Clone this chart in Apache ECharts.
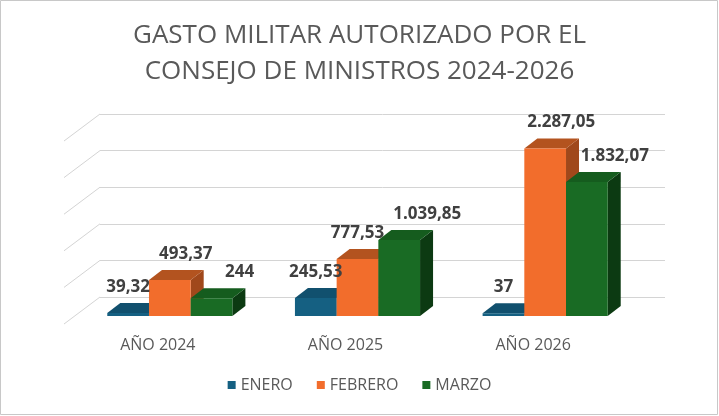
<!DOCTYPE html>
<html>
<head>
<meta charset="utf-8">
<script src="https://cdn.jsdelivr.net/npm/echarts@6/dist/echarts.min.js"></script>
<style>
  html, body { margin: 0; padding: 0; background: #fff; }
  #chart { width: 719px; height: 416px; }
</style>
</head>
<body>
<div id="chart"></div>
<script>
// datos
const categories = ['AÑO 2024', 'AÑO 2025', 'AÑO 2026'];
const seriesNames = ['ENERO', 'FEBRERO', 'MARZO'];
const enero = [39.32, 245.53, 37];
const febrero = [493.37, 777.53, 2287.05];
const marzo = [244, 1039.85, 1832.07];
const yTicks = [0, 500, 1000, 1500, 2000, 2500];

const values = [enero, febrero, marzo];
const faces = [
  {front: '#156082', top: '#11506e', side: '#0d3d55'},
  {front: '#f26d2c', top: '#b3531f', side: '#a0481b'},
  {front: '#196b24', top: '#155c1e', side: '#0c3a12'}
];
const labelShift = [16, 16, 28];
const depth = [13, -10];
const wallDepth = [-36, 27];

// 1.039,85 style
const fmt = v => {
  let parts = v.toFixed(2).split('.');
  let ent = parts[0].replace(/\B(?=(\d{3})+(?!\d))/g, '.');
  return parts[1] === '00' ? ent : ent + ',' + parts[1];
};

const font = '"Open Sans", "Noto Sans", sans-serif';

// geometria comun de la barra i
function barBox(i, api) {
  let top = api.coord([api.value(0), api.value(1)]);
  let base = api.coord([api.value(0), 0]);
  let band = api.size([1, 0])[0];
  let w = band * 2 / 9;
  let x0 = top[0] - band / 3 + i * w;
  return {x0: x0, x1: x0 + w, yt: top[1], yb: base[1]};
}

function barSeries(i) {
  return {
    type: 'custom',
    name: seriesNames[i],
    xAxisIndex: 1,
    yAxisIndex: 1,
    itemStyle: {color: faces[i].front},
    z: 10 + i,
    data: values[i].map((v, k) => [k, v]),
    renderItem: (params, api) => {
      let b = barBox(i, api);
      let dx = depth[0], dy = depth[1];
      let c = faces[i];
      return {
        type: 'group',
        children: [
          {type: 'polygon', shape: {points: [[b.x1, b.yb], [b.x1 + dx, b.yb + dy], [b.x1 + dx, b.yt + dy], [b.x1, b.yt]]}, style: {fill: c.side}},
          {type: 'polygon', shape: {points: [[b.x0, b.yt], [b.x1, b.yt], [b.x1 + dx, b.yt + dy], [b.x0 + dx, b.yt + dy]]}, style: {fill: c.top}},
          {type: 'rect', shape: {x: b.x0, y: b.yt, width: b.x1 - b.x0, height: b.yb - b.yt}, style: {fill: c.front}}
        ]
      };
    }
  };
}

function labelSeries(i) {
  return {
    type: 'custom',
    xAxisIndex: 1,
    yAxisIndex: 1,
    silent: true,
    zlevel: 1,
    z: 30,
    data: values[i].map((v, k) => [k, v]),
    renderItem: (params, api) => {
      let b = barBox(i, api);
      let k = params.dataIndex;
      // si la barra siguiente es mas alta, la etiqueta no se desplaza
      let next = values[i + 1];
      let shift = next && next[k] > values[i][k] ? 0 : labelShift[i];
      return {
        type: 'text',
        style: {
          text: fmt(api.value(1)), x: (b.x0 + b.x1) / 2 + shift, y: b.yt + depth[1] - 16,
          align: 'center', verticalAlign: 'middle',
          fill: '#404040', fontSize: 17, fontWeight: 'bold', fontFamily: font
        }
      };
    }
  };
}

let myChart = echarts.init(document.getElementById('chart'));
myChart.setOption({
  animation: false,
  backgroundColor: '#fff',
  title: {
    text: 'GASTO MILITAR AUTORIZADO POR EL\nCONSEJO DE MINISTROS 2024-2026',
    left: 'center',
    top: 13,
    textStyle: {color: '#595959', fontSize: 26, fontWeight: 'normal', fontFamily: font, lineHeight: 36}
  },
  legend: {
    data: seriesNames,
    bottom: 18,
    left: 'center',
    icon: 'rect',
    itemWidth: 8,
    itemHeight: 8,
    itemGap: 24,
    textStyle: {color: '#595959', fontSize: 16, fontFamily: font}
  },
  graphic: [{
    type: 'rect', silent: true,
    shape: {x: 0.5, y: 0.5, width: 717, height: 414},
    style: {fill: 'none', stroke: '#c8c8c8', lineWidth: 1}
  }],
  grid: [
    {left: 100, top: 114, width: 565, height: 183},
    {left: 76, top: 133, width: 563, height: 183},
    {left: 64, top: 133, width: 563, height: 183}
  ],
  xAxis: [
    {type: 'category', gridIndex: 0, data: categories, show: false},
    {type: 'category', gridIndex: 1, data: categories, show: false},
    {type: 'category', gridIndex: 2, data: categories,
      axisLine: {show: false}, axisTick: {show: false},
      axisLabel: {color: '#595959', fontSize: 16, fontFamily: font, margin: 21}}
  ],
  yAxis: [
    {type: 'value', gridIndex: 0, min: 0, max: 2500, interval: 500,
      axisLabel: {show: false}, axisLine: {show: false}, axisTick: {show: false},
      splitLine: {lineStyle: {color: '#d4d4d4', width: 1}}},
    {type: 'value', gridIndex: 1, min: 0, max: 2500, interval: 500, show: false, splitLine: {show: false}},
    {type: 'value', gridIndex: 2, min: 0, max: 2500, interval: 500, show: false, splitLine: {show: false}}
  ],
  series: [
    {
      type: 'custom',
      xAxisIndex: 0,
      yAxisIndex: 0,
      silent: true,
      z: 1,
      data: yTicks.map(v => [0, v]),
      renderItem: (params, api) => {
        let y = api.coord([0, api.value(1)])[1];
        let x = params.coordSys.x;
        return {
          type: 'line',
          shape: {x1: x, y1: y, x2: x + wallDepth[0], y2: y + wallDepth[1]},
          style: {stroke: '#d4d4d4', lineWidth: 1}
        };
      }
    },
    barSeries(0),
    barSeries(1),
    barSeries(2),
    labelSeries(0),
    labelSeries(1),
    labelSeries(2)
  ]
});
</script>
</body>
</html>
